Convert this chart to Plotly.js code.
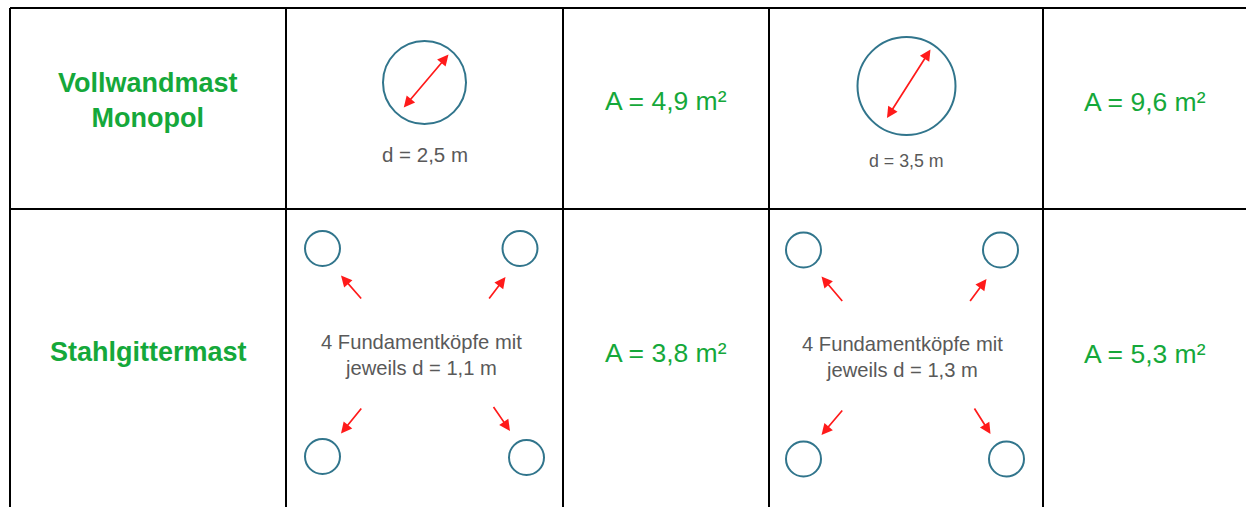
<!DOCTYPE html>
<html>
<head>
<meta charset="utf-8">
<script src="https://cdn.plot.ly/plotly-3.0.1.min.js"></script>
<style>html,body{margin:0;padding:0;background:#fff;}#chart{width:1246px;height:507px;}</style>
</head>
<body>
<div id="chart"></div>
<script>
// ---- data ----
const mastTypes = ["Vollwandmast<br>Monopol", "Stahlgittermast"];
const diameterLabelsA = ["d = 2,5 m", "4 Fundamentköpfe mit<br>jeweils d = 1,1 m"];
const areaLabelsA = ["A = 4,9 m²", "A = 3,8 m²"];
const diameterLabelsB = ["d = 3,5 m", "4 Fundamentköpfe mit<br>jeweils d = 1,3 m"];
const areaLabelsB = ["A = 9,6 m²", "A = 5,3 m²"];

// ---- layout geometry ----
const W = 1246, H = 507;
const colX = [10, 286, 563, 769, 1043];
const rowY = [8, 209];
const GREEN = "#15a83a", GRAY = "#595959", TEAL = "#31758c", RED = "#ff1a1a";
const FONT = "Liberation Sans, Arial, sans-serif";

const shapes = [];
const annotations = [];

function line(x0, y0, x1, y1) {
  shapes.push({type: "line", xref: "x", yref: "y", x0, y0, x1, y1, line: {color: "#000", width: 2}});
}
function circle(cx, cy, r) {
  shapes.push({type: "circle", xref: "x", yref: "y", x0: cx - r, x1: cx + r, y0: cy - r, y1: cy + r,
    line: {color: TEAL, width: 2}, fillcolor: "rgba(0,0,0,0)"});
}
function text(x, y, t, size, color, bold) {
  annotations.push({xref: "x", yref: "y", x, y, text: bold ? "<b>" + t + "</b>" : t, showarrow: false,
    xanchor: "center", yanchor: "middle", align: "center",
    font: {family: FONT, size, color}});
}
function arrow(x0, y0, x1, y1, both) {
  const a = {xref: "x", yref: "y", axref: "x", ayref: "y", x: x1, y: y1, ax: x0, ay: y0, text: "",
    showarrow: true, arrowhead: 2, arrowsize: 1.3, arrowwidth: 1.7, arrowcolor: RED,
    standoff: 0, startstandoff: 0, font: {size: 1}};
  if (both) { a.arrowside = "end+start"; a.startarrowhead = 2; a.startarrowsize = 1.3; }
  annotations.push(a);
}

// grid lines
line(colX[0], rowY[0], W + 5, rowY[0]);
line(colX[0], rowY[1], W + 5, rowY[1]);
colX.forEach(x => line(x, rowY[0], x, H + 5));

// row labels
text(148, 100, mastTypes[0], 27, GREEN, true);
text(148, 352, mastTypes[1], 27, GREEN, true);

// area labels
text(666, 101, areaLabelsA[0], 26.5, GREEN, false);
text(666, 353, areaLabelsA[1], 26.5, GREEN, false);
text(1145, 102, areaLabelsB[0], 26.5, GREEN, false);
text(1145, 354, areaLabelsB[1], 26.5, GREEN, false);

// monopole A
circle(424.5, 82.5, 41.5);
arrow(402.5, 109, 448.5, 54.5, true);
text(425, 154, diameterLabelsA[0], 20.5, GRAY, false);

// monopole B
circle(906.5, 86, 49);
arrow(886, 119.5, 930.5, 49.5, true);
text(906, 161, diameterLabelsB[0], 17.8, GRAY, false);

// lattice A
circle(322.5, 248.5, 17.5); circle(520, 248.5, 17.5);
circle(322.5, 456.5, 17.5); circle(526.5, 457.5, 17.5);
arrow(362.5, 300, 341, 275.5); arrow(488, 300, 505.5, 277);
arrow(362.5, 407, 341, 433.5); arrow(492.5, 405.5, 510, 431);
text(421, 355, diameterLabelsA[1], 20.2, GRAY, false);

// lattice B
circle(803.5, 250, 17.5); circle(1000.5, 250, 17.5);
circle(803.5, 459, 17.5); circle(1006.5, 459, 17.5);
arrow(843.5, 302.5, 821.5, 276.5); arrow(969, 302.5, 986.5, 279);
arrow(843.5, 409, 821.5, 435); arrow(973.5, 407, 990.5, 434);
text(902, 356.5, diameterLabelsB[1], 20.2, GRAY, false);

const layout = {
  width: W, height: H,
  margin: {l: 0, r: 0, t: 0, b: 0, pad: 0},
  paper_bgcolor: "#fff", plot_bgcolor: "#fff",
  showlegend: false,
  xaxis: {range: [0, W], visible: false, fixedrange: true},
  yaxis: {range: [H, 0], visible: false, fixedrange: true},
  shapes, annotations
};
Plotly.newPlot("chart", [{x: [], y: [], type: "scatter", mode: "markers", hoverinfo: "skip"}], layout,
  {displayModeBar: false, staticPlot: true});
</script>
</body>
</html>
